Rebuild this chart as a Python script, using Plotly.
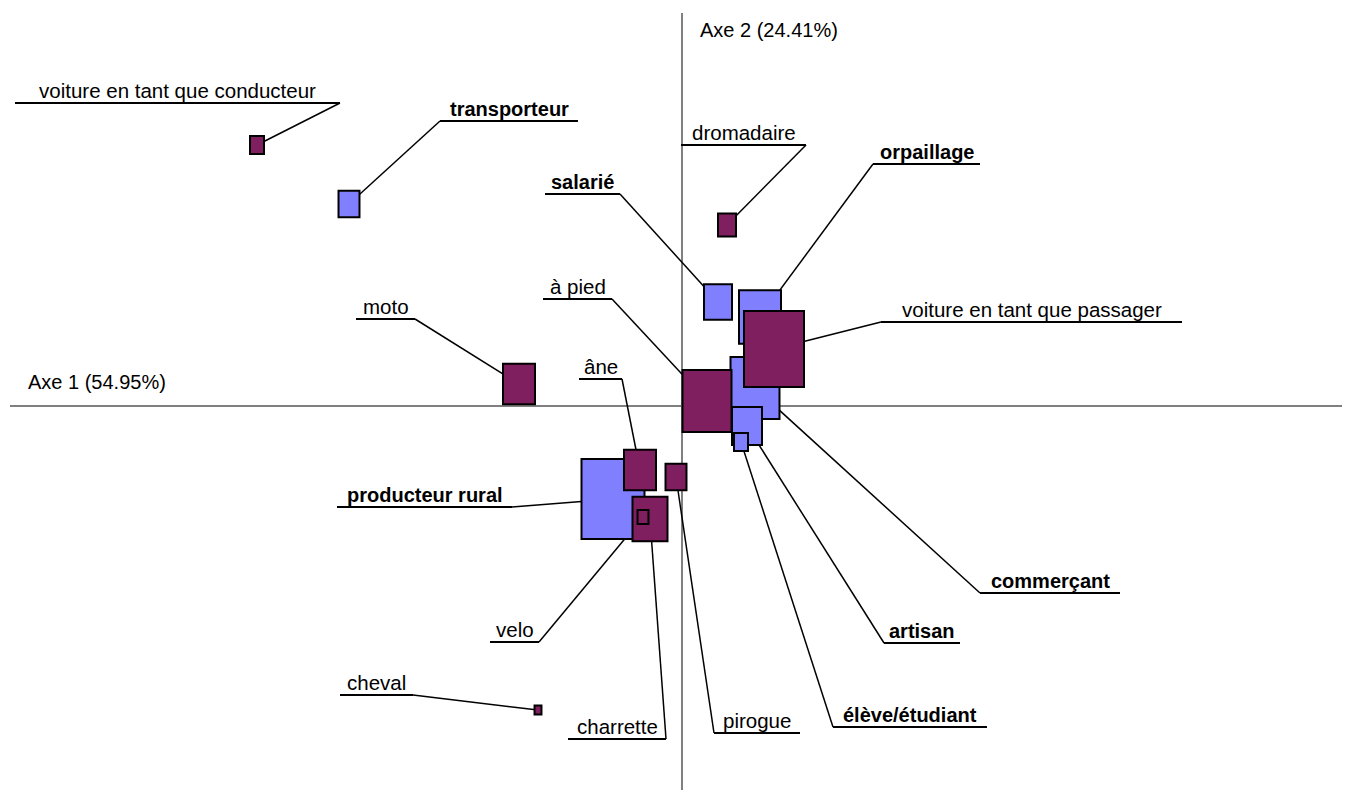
import plotly.graph_objects as go

# Analyse factorielle des correspondances : professions (lignes) x moyens de transport (colonnes)
professions = ["producteur rural", "commerçant", "orpaillage", "artisan", "salarié",
               "transporteur", "élève/étudiant"]
prof_axe1 = [-0.69, 0.73, 0.78, 0.65, 0.36, -3.33, 0.59]
prof_axe2 = [-0.93, 0.18, 0.89, -0.20, 1.04, 2.02, -0.36]
prof_masse = [9.92, 6.00, 4.41, 2.25, 1.96, 1.10, 0.49]

transports = ["voiture en tant que passager", "à pied", "charrette", "moto", "âne",
              "pirogue", "dromadaire", "voiture en tant que conducteur", "velo", "cheval"]
trans_axe1 = [0.92, 0.25, -0.32, -1.63, -0.42, -0.06, 0.45, -4.25, -0.39, -1.44]
trans_axe2 = [0.57, 0.05, -1.13, 0.22, -0.64, -0.71, 1.81, 2.61, -1.11, -3.04]
trans_masse = [9.00, 6.00, 3.06, 2.56, 2.56, 1.10, 0.81, 0.49, 0.30, 0.12]

axe1_label = "Axe 1 (54.95%)"
axe2_label = "Axe 2 (24.41%)"

# placement des étiquettes : soulignement (x gauche, x droite, y) et côté du trait de rappel
etiquettes = {
    "voiture en tant que conducteur": (-6.67, -3.42, 3.03, "r"),
    "transporteur": (-2.42, -1.04, 2.85, "l"),
    "dromadaire": (-0.01, 1.24, 2.61, "r"),
    "orpaillage": (1.91, 2.98, 2.42, "l"),
    "salarié": (-1.37, -0.62, 2.12, "r"),
    "voiture en tant que passager": (1.99, 5.00, 0.84, "l"),
    "à pied": (-1.39, -0.70, 1.07, "r"),
    "moto": (-3.26, -2.67, 0.87, "r"),
    "âne": (-1.03, -0.60, 0.27, "r"),
    "producteur rural": (-3.45, -1.70, -1.01, "r"),
    "commerçant": (2.98, 4.38, -1.87, "l"),
    "artisan": (2.02, 2.78, -2.37, "l"),
    "velo": (-1.92, -1.43, -2.36, "r"),
    "cheval": (-3.42, -2.69, -2.89, "r"),
    "charrette": (-1.14, -0.16, -3.33, "r"),
    "pirogue": (0.32, 1.18, -3.27, "l"),
    "élève/étudiant": (1.51, 3.05, -3.21, "l"),
}

BLEU = "#8080FF"
PRUNE = "#7F1F5F"
GRIS = "#808080"
FONT = "Liberation Sans"

fig = go.Figure()
shapes = []
annotations = []

# axes factoriels
shapes.append(dict(type="line", xref="x", yref="y", x0=-6.72, x1=6.76, y0=0, y1=0,
                   line=dict(color=GRIS, width=2)))
shapes.append(dict(type="line", xref="x", yref="y", x0=0, x1=0, y0=-3.92, y1=3.93,
                   line=dict(color=GRIS, width=2)))
annotations.append(dict(x=-5.85, y=0.24, xref="x", yref="y", text=axe1_label, showarrow=False,
                        font=dict(family=FONT, size=20, color="black")))
annotations.append(dict(x=0.87, y=3.76, xref="x", yref="y", text=axe2_label, showarrow=False,
                        font=dict(family=FONT, size=20, color="black")))

groupes = [
    (professions, prof_axe1, prof_axe2, prof_masse, BLEU, True),
    (transports, trans_axe1, trans_axe2, trans_masse, PRUNE, False),
]

# traits de rappel et soulignements
for noms, xs, ys, masses, couleur, gras in groupes:
    for nom, x, y in zip(noms, xs, ys):
        x0, x1, yl, cote = etiquettes[nom]
        xa = x1 if cote == "r" else x0
        shapes.append(dict(type="line", xref="x", yref="y", x0=xa, y0=yl, x1=x, y1=y,
                           line=dict(color="black", width=1.5)))
        shapes.append(dict(type="line", xref="x", yref="y", x0=x0, y0=yl, x1=x1, y1=yl,
                           line=dict(color="black", width=2)))
        texte = f"<b>{nom}</b>" if gras else nom
        annotations.append(dict(x=(x0 + x1) / 2, y=yl, xref="x", yref="y", text=texte,
                                showarrow=False, yanchor="bottom", xanchor="center", yshift=-1,
                                font=dict(family=FONT, size=20 if gras else 20.5, color="black")))

# carrés proportionnels à la masse
for noms, xs, ys, masses, couleur, gras in groupes:
    ordre = sorted(range(len(noms)), key=lambda i: -masses[i])
    for i in ordre:
        w = 20 * masses[i] ** 0.5
        h = 1.27 * w
        shapes.append(dict(type="rect", xref="x", yref="y", xsizemode="pixel", ysizemode="pixel",
                           xanchor=xs[i], yanchor=ys[i], x0=-w / 2, x1=w / 2, y0=-h / 2, y1=h / 2,
                           fillcolor=couleur, line=dict(color="black", width=2)))

# points invisibles pour l'info-bulle
fig.add_trace(go.Scatter(x=prof_axe1, y=prof_axe2, text=professions, mode="markers",
                         marker=dict(size=1, color=BLEU, opacity=0), hoverinfo="text", showlegend=False))
fig.add_trace(go.Scatter(x=trans_axe1, y=trans_axe2, text=transports, mode="markers",
                         marker=dict(size=1, color=PRUNE, opacity=0), hoverinfo="text", showlegend=False))

# la page ajoute une marge de 8 px : les plages compensent ce décalage
fig.update_layout(
    width=1350, height=790,
    margin=dict(l=0, r=0, t=0, b=0),
    plot_bgcolor="white", paper_bgcolor="white",
    xaxis=dict(range=[-6.74, 6.76], visible=False),
    yaxis=dict(range=[-3.92, 3.98], visible=False),
    shapes=shapes, annotations=annotations,
    showlegend=False,
)

fig.write_html("out.html")
